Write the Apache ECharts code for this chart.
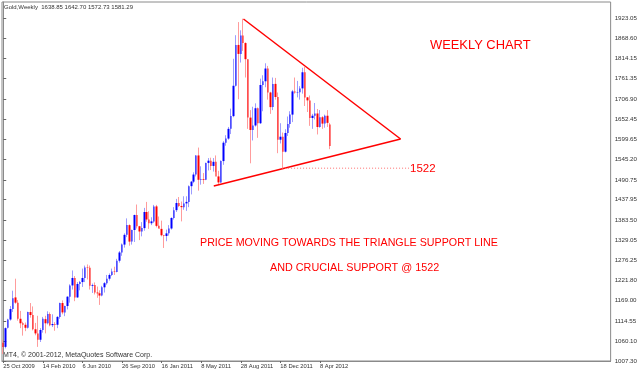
<!DOCTYPE html>
<html><head><meta charset="utf-8">
<script src="https://cdn.jsdelivr.net/npm/echarts@6/dist/echarts.min.js"></script>
<style>html,body{margin:0;padding:0;background:#fff}#c{width:640px;height:372px}</style>
</head><body><div id="c"></div>
<script>
// ---- data ----
const symbolName = 'Gold,Weekly';
const startDate = '2009-10-25';
const totalSlots = 246;
const opens  = [1056,1045,1096,1118,1146,1177,1163,1120,1108,1104,1096,1138,1130,1092,1081,1064,1090,1119,1108,1133,1103,1106,1104,1125,1162,1137,1154,1179,1209,1229,1177,1213,1218,1229,1257,1256,1208,1210,1190,1188,1182,1204,1215,1227,1237,1246,1245,1275,1297,1318,1344,1370,1326,1357,1397,1367,1353,1362,1405,1385,1375,1380,1420,1368,1360,1343,1341,1348,1361,1389,1410,1429,1421,1418,1428,1432,1474,1486,1505,1556,1491,1493,1491,1536,1542,1528,1539,1500,1484,1541,1590,1601,1627,1661,1742,1851,1827,1876,1856,1813,1657,1624,1636,1682,1642,1744,1754,1788,1724,1685,1747,1712,1598,1606,1566,1616,1640,1665,1727,1724,1725,1735,1778,1711,1703,1656,1662,1668,1632,1658,1641,1662,1638.85];
const highs  = [1064,1097,1120,1154,1195,1227,1170,1141,1112,1110,1139,1162,1153,1109,1128,1095,1125,1128,1140,1137,1132,1111,1127,1163,1169,1155,1180,1212,1249,1234,1218,1221,1254,1262,1265,1262,1214,1217,1206,1196,1208,1218,1237,1241,1254,1259,1280,1301,1321,1348,1388,1372,1358,1398,1425,1368,1378,1416,1432,1407,1391,1424,1424,1393,1382,1344,1358,1370,1391,1418,1440,1445,1433,1447,1447,1476,1488,1511,1557,1577,1527,1509,1537,1549,1550,1549,1556,1515,1543,1594,1610,1632,1681,1814,1877,1912,1890,1921,1858,1813,1677,1686,1695,1684,1761,1770,1802,1795,1726,1764,1763,1724,1642,1617,1626,1660,1674,1731,1764,1755,1741,1790,1792,1712,1716,1667,1696,1680,1677,1661,1665,1677,1642.70];
const lows   = [1026,1041,1094,1115,1138,1160,1115,1095,1075,1087,1094,1123,1089,1076,1045,1058,1083,1081,1105,1100,1098,1088,1095,1120,1132,1127,1145,1163,1198,1167,1176,1196,1205,1218,1225,1198,1189,1185,1176,1157,1180,1190,1211,1222,1234,1237,1244,1270,1288,1310,1338,1315,1318,1325,1361,1330,1340,1355,1379,1360,1370,1376,1364,1362,1340,1309,1327,1342,1358,1385,1405,1418,1380,1411,1408,1418,1452,1482,1500,1462,1478,1480,1490,1516,1517,1513,1512,1478,1483,1531,1582,1598,1613,1658,1740,1706,1804,1835,1764,1627,1535,1596,1633,1603,1640,1674,1738,1705,1667,1677,1705,1562,1588,1523,1564,1608,1630,1645,1721,1711,1705,1721,1688,1672,1635,1627,1652,1612,1630,1627,1630,1632,1572.73];
const closes = [1045,1095,1118,1146,1175,1163,1120,1108,1104,1096,1138,1130,1092,1081,1064,1090,1120,1108,1133,1103,1106,1104,1125,1162,1137,1154,1179,1209,1229,1177,1213,1218,1229,1257,1256,1208,1210,1190,1188,1182,1204,1215,1227,1237,1246,1245,1275,1297,1318,1344,1370,1326,1357,1397,1367,1353,1362,1405,1385,1375,1380,1420,1368,1360,1343,1341,1348,1361,1389,1410,1429,1421,1418,1428,1432,1474,1486,1505,1556,1491,1493,1491,1536,1542,1528,1539,1500,1484,1541,1590,1601,1627,1661,1742,1851,1827,1876,1856,1813,1657,1624,1636,1682,1642,1744,1754,1788,1724,1685,1747,1712,1598,1606,1566,1616,1640,1665,1727,1724,1725,1735,1778,1711,1703,1656,1662,1668,1632,1658,1641,1662,1643,1581.29];
const xTickLabels = ['25 Oct 2009','14 Feb 2010','6 Jun 2010','26 Sep 2010','16 Jan 2011','8 May 2011','28 Aug 2011','18 Dec 2011','8 Apr 2012'];
const xTickEvery = 16;
const yTickValues = [1923.05,1868.60,1814.15,1761.35,1706.90,1652.45,1599.65,1545.20,1490.75,1437.95,1383.50,1329.05,1276.25,1221.80,1169.00,1114.55,1060.10,1007.30];
const yMin = 1007.30, yMax = 1965.6;
// trend lines: [bar index, price]
const upperTrend = [[97.1,1920.2],[160.6,1599.9]];
const lowerTrend = [[85.1,1474.4],[160.6,1599.9]];
const supportLevel = 1522;
const supportSpan = [112.7, 164.0];

// ---- build ----
const months = ['Jan','Feb','Mar','Apr','May','Jun','Jul','Aug','Sep','Oct','Nov','Dec'];
const categories = [];
{
  const d0 = new Date(startDate + 'T00:00:00Z');
  for (let i = 0; i < totalSlots; i++) {
    const d = new Date(d0.getTime() + i * 7 * 86400000);
    categories.push(d.getUTCDate() + ' ' + months[d.getUTCMonth()] + ' ' + d.getUTCFullYear());
  }
}
const n = closes.length;
const fullCandles = opens.map((o, i) => [o, closes[i], lows[i], highs[i]]);
const bodyCandles = opens.map((o, i) => [o, closes[i], Math.min(o, closes[i]), Math.max(o, closes[i])]);
const last = n - 1;
const headText = symbolName + '  ' + opens[last].toFixed(2) + ' ' + highs[last].toFixed(2) + ' ' + lows[last].toFixed(2) + ' ' + closes[last].toFixed(2);

const FONT = 'Liberation Sans';
const chart = echarts.init(document.getElementById('c'), null, {renderer: 'canvas'});
chart.setOption({
  animation: false,
  backgroundColor: '#fff',
  title: {text: headText, left: 4, top: 4, padding: 0, textStyle: {fontSize: 6, color: '#333', fontWeight: 'normal', fontFamily: FONT}},
  grid: {left: 2, right: 23, top: 2, bottom: 11, show: true, borderColor: '#8a8a8a', borderWidth: 1, containLabel: false},
  xAxis: [{
    type: 'category', data: categories, boundaryGap: true,
    axisLine: {show: true, lineStyle: {color: '#8a8a8a'}},
    axisTick: {show: true, length: 2, lineStyle: {color: '#666'},
      interval: (idx) => idx % xTickEvery === 0 && idx < n, alignWithLabel: true},
    axisLabel: {show: true, interval: (idx) => idx % xTickEvery === 0 && idx < n,
      formatter: (v, idx) => xTickLabels[idx / xTickEvery] || '', align: 'left', margin: 2,
      fontSize: 5.8, color: '#333', fontFamily: FONT},
    splitLine: {show: false}
  }, {
    type: 'value', min: -0.5, max: totalSlots - 0.5, show: false
  }],
  yAxis: {
    type: 'value', position: 'right', min: yMin, max: yMax, scale: true,
    axisLine: {show: true, lineStyle: {color: '#8a8a8a'}},
    axisTick: {show: true, length: 3, customValues: yTickValues, lineStyle: {color: '#666'}},
    axisLabel: {show: true, customValues: yTickValues, formatter: v => v.toFixed(2), margin: 4,
      fontSize: 6.2, color: '#333', fontFamily: FONT},
    splitLine: {show: false}
  },
  series: [{
    name: 'wicks', type: 'candlestick', data: fullCandles, barWidth: 1,
    itemStyle: {color: '#9c9cff', color0: '#ff9c9c', borderColor: '#9c9cff', borderColor0: '#ff9c9c', borderWidth: 1}
  }, {
    name: 'bodies', type: 'candlestick', data: bodyCandles, barWidth: 2,
    itemStyle: {color: '#0000ff', color0: '#ff0000', borderColor: '#0000ff', borderColor0: '#ff0000', borderWidth: 0},
    markLine: {
      silent: true, symbol: 'none',
      lineStyle: {opacity: 0},
      label: {show: true, position: 'end', distance: 1, formatter: closes[last].toFixed(2),
        backgroundColor: '#000', color: '#fff', padding: [1, 1], fontSize: 6.2, fontFamily: FONT},
      data: [{yAxis: closes[last]}]
    }
  }, {
    name: 'upper', type: 'line', xAxisIndex: 1, data: upperTrend, symbol: 'none',
    lineStyle: {color: '#ff0000', width: 1.5}
  }, {
    name: 'lower', type: 'line', xAxisIndex: 1, data: lowerTrend, symbol: 'none',
    lineStyle: {color: '#ff0000', width: 1.5}
  }, {
    name: 'support', type: 'line', xAxisIndex: 1, symbol: 'none',
    data: [[supportSpan[0], supportLevel], [supportSpan[1], supportLevel]],
    lineStyle: {color: '#ff7070', width: 1, type: [1, 2]},
    endLabel: {show: true, formatter: String(supportLevel), color: '#ff0000', fontSize: 11.5, fontFamily: FONT, distance: 1, offset: [0, 1]}
  }],
  graphic: [
    {type: 'text', left: 430, top: 39, style: {text: 'WEEKLY CHART', fill: '#ff0000', font: '12.9px "Liberation Sans"'}},
    {type: 'text', left: 200, top: 238, style: {text: 'PRICE MOVING TOWARDS THE TRIANGLE SUPPORT LINE', fill: '#ff0000', font: '10.7px "Liberation Sans"'}},
    {type: 'text', left: 270, top: 263, style: {text: 'AND CRUCIAL SUPPORT @ 1522', fill: '#ff0000', font: '10.8px "Liberation Sans"'}},
    {type: 'text', left: 3, top: 352, style: {text: 'MT4, \u00a9 2001-2012, MetaQuotes Software Corp.', fill: '#333', font: '7px "Liberation Sans"'}}
  ]
});
</script></body></html>
